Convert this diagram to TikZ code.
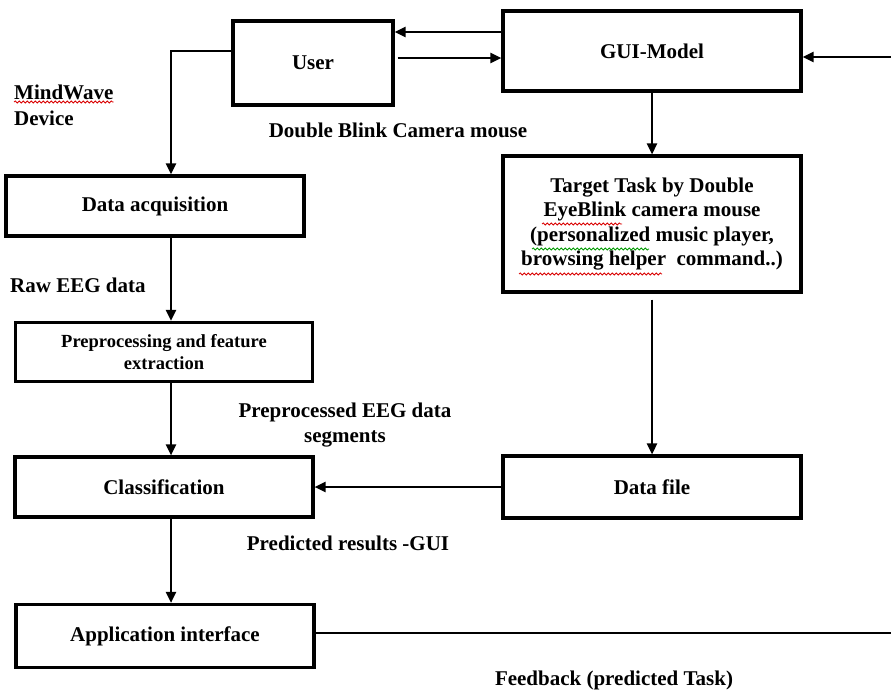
\documentclass[tikz,border=0pt]{standalone}
\usepackage{fontspec}
\setmainfont{Liberation Serif}
\usetikzlibrary{arrows.meta,calc,decorations.pathmorphing}
\begin{document}
\begin{tikzpicture}[x=1pt,y=-1pt,
  box/.style={draw, line width=3.4pt, inner sep=0pt, align=center,
              font=\fontsize{21}{24.5}\selectfont\bfseries},
  link/.style={line width=1.5pt, -{Triangle[length=11pt,width=10.5pt]}},
  plain/.style={line width=1.5pt},
  lbl/.style={inner sep=0pt, align=center, font=\fontsize{21}{24.5}\selectfont\bfseries},
  spell/.style={line width=0.8pt, decorate,
                decoration={snake, amplitude=1pt, segment length=4pt}}]

\path[use as bounding box] (0,0) rectangle (891,691);

% blocks
\node[box, minimum width=160pt, minimum height=84pt] (user) at (313,63) {User};
\node[box, minimum width=298pt, minimum height=80pt] (gui) at (652,51) {GUI-Model};
\node[box, minimum width=298pt, minimum height=60pt] (acq) at (155,206) {Data acquisition};
\node[box, minimum width=298pt, minimum height=136pt] (target) at (652,224)
  {\rule{0pt}{5pt}Target Task by Double\\EyeBlink camera mouse\\(personalized music player,\\browsing helper\ \ command..)};
\node[box, minimum width=297pt, minimum height=59pt,
      font=\fontsize{18.5}{22}\selectfont\bfseries] (pre) at (164,352) {Preprocessing and feature\\extraction};
\node[box, minimum width=298pt, minimum height=60pt] (cls) at (164,487) {Classification};
\node[box, minimum width=298pt, minimum height=62pt] (dfile) at (652,487) {Data file};
\node[box, minimum width=298pt, minimum height=63pt] (app) at (165,636) {Application interface};

% free labels
\node[lbl, anchor=base west] (mw) at (14,99) {MindWave};
\node[lbl, anchor=base west] (dev) at (14,125) {Device};
\node[lbl] (dbc) at (398,130) {Double Blink Camera mouse};
\node[lbl, anchor=west] (raw) at (10,285) {Raw EEG data};
\node[lbl] (ppd) at (345,425) {Preprocessed EEG data\\segments};
\node[lbl] (pred) at (348,543) {Predicted results -GUI};
\node[lbl] (fb) at (614,680) {Feedback (predicted Task)};

% spelling marks
\draw[spell, red!85!black] ([yshift=-3pt]mw.base west) -- ([yshift=-3pt]mw.base east);
\draw[spell, red!85!black] ($(target.center)+(-110,0)$) -- ($(target.center)+(-30,0)$);
\draw[spell, green!60!black] ($(target.center)+(-120,25)$) -- ($(target.center)+(-3,25)$);
\draw[spell, red!85!black] ($(target.center)+(-133,50)$) -- ($(target.center)+(10,50)$);

% routing points
\coordinate (bend) at (171,51);
\coordinate (inR) at (891,57);
\coordinate (outR) at (891,633);

% connectors
\draw[link] ([yshift=19pt]gui.west) -- ([yshift=19pt]gui.west -| user.east);
\draw[link] ([xshift=3pt,yshift=-7pt]gui.west -| user.east) -- ([yshift=-7pt]gui.west);
\draw[link] (bend -| user.west) -- (bend) -- (acq.north -| bend);
\draw[link] (inR) -- (inR -| gui.east);
\draw[link] (gui.south) -- (target.north);
\draw[link] ([yshift=-6pt]target.south) -- (dfile.north);
\draw[link] (dfile.west) -- (cls.east);
\draw[link] (acq.south -| bend) -- (pre.north -| bend);
\draw[link] (pre.south -| bend) -- (cls.north -| bend);
\draw[link] (cls.south -| bend) -- (app.north -| bend);
\draw[plain] (outR -| app.east) -- (outR);

\end{tikzpicture}
\end{document}
